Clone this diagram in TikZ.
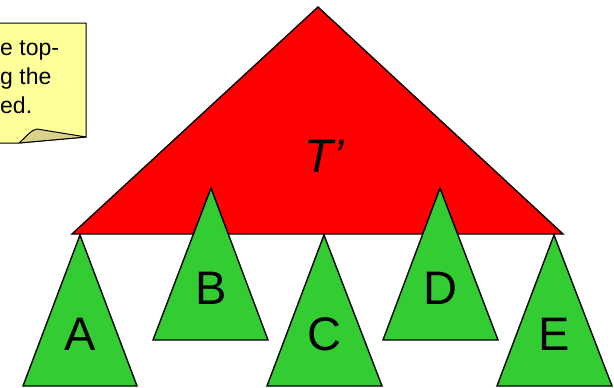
\documentclass[tikz,border=0pt]{standalone}
\usepackage{fontspec}
\setmainfont{Liberation Sans}
\definecolor{tred}{HTML}{FF0000}
\definecolor{tgreen}{HTML}{33CC33}
\definecolor{noteyellow}{HTML}{FFFF99}
\definecolor{notefold}{HTML}{D9D38A}
\begin{document}
\begin{tikzpicture}[x=1pt,y=-1pt,
  tri/.style={draw=black, line width=1.4pt, line join=miter},
  big/.style={font=\fontsize{47}{50}\selectfont, inner sep=0pt, anchor=base},
  notetext/.style={font=\fontsize{23}{26}\selectfont, inner sep=0pt, anchor=base west}]
\useasboundingbox (0,0) rectangle (614,388);
\clip (0,0) rectangle (614,388);
% sticky note
\path[fill=noteyellow, draw=black, line width=1pt] (-5,23) -- (86,23) -- (86,137) -- (19,143) -- (-5,143) -- cycle;
\path[fill=notefold, draw=black, line width=1pt, line join=round] (19,143) .. controls (27,136) and (31,130) .. (37,129) -- (86,137) -- cycle;
\node[notetext] (n1) at (0,56) {e top-};
\node[notetext] (n2) at (0,84) {g the};
\node[notetext] (n3) at (0,113) {ed.};
% big red tree T'
\path[tri, fill=tred] (318,7) -- (563,234) -- (72,234) -- cycle;
\node[big] (tp) at (324,172) {\itshape T’};
% green subtrees
\path[tri, fill=tgreen] (80,235) -- (137,386) -- (23,386) -- cycle;
\path[tri, fill=tgreen] (211,188) -- (268,340) -- (153,340) -- cycle;
\path[tri, fill=tgreen] (324,235) -- (382,386) -- (267,386) -- cycle;
\path[tri, fill=tgreen] (440,188) -- (498,340) -- (383,340) -- cycle;
\path[tri, fill=tgreen] (554,235) -- (612,386) -- (497,386) -- cycle;
\node[big] (la) at (80,350) {A};
\node[big] (lb) at (211,304) {B};
\node[big] (lc) at (324,350) {C};
\node[big] (ld) at (440,304) {D};
\node[big] (le) at (554,350) {E};
\end{tikzpicture}
\end{document}
